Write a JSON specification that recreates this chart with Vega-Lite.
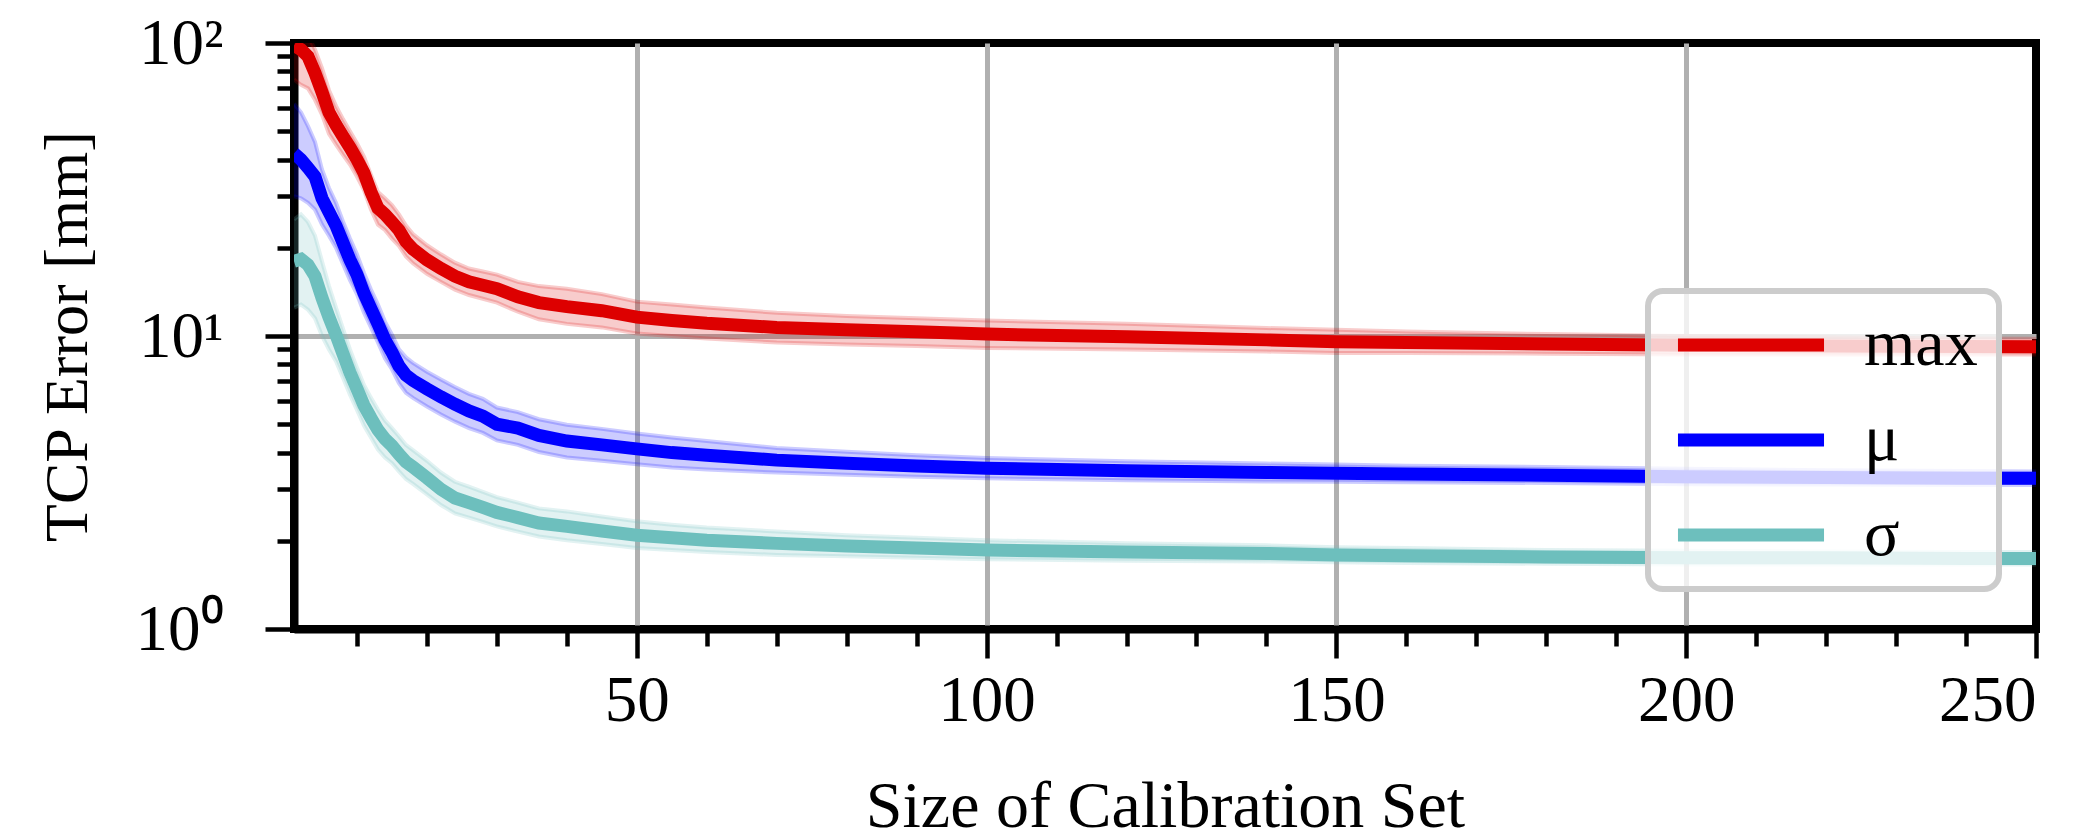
{
  "$schema": "https://vega.github.io/schema/vega-lite/v6.json",
  "width": 1742,
  "height": 586,
  "autosize": {"type": "none"},
  "padding": {"left": 294, "top": 43, "right": 64, "bottom": 211},
  "background": "white",
  "config": {
    "view": {"stroke": "black", "strokeWidth": 8},
    "font": "Liberation Serif",
    "legend": {
      "strokeColor": "#cccccc",
      "strokeWidth": 6,
      "fillColor": "rgba(255,255,255,0.8)",
      "cornerRadius": 15,
      "padding": 21
    }
  },
  "data": {
    "values": [
      {"x":1,"s":"max","v":98,"lo":75,"hi":115},
      {"x":2,"s":"max","v":95,"lo":72,"hi":112},
      {"x":3,"s":"max","v":90,"lo":70,"hi":106},
      {"x":4,"s":"max","v":79,"lo":64,"hi":95},
      {"x":5,"s":"max","v":68,"lo":57,"hi":82},
      {"x":6,"s":"max","v":58,"lo":49,"hi":69},
      {"x":7,"s":"max","v":52.5,"lo":45,"hi":61},
      {"x":8,"s":"max","v":48,"lo":41.5,"hi":55},
      {"x":9,"s":"max","v":44,"lo":38.5,"hi":50},
      {"x":10,"s":"max","v":40,"lo":35,"hi":45.5},
      {"x":11,"s":"max","v":36,"lo":31.5,"hi":41},
      {"x":12,"s":"max","v":31,"lo":27,"hi":35.5},
      {"x":13,"s":"max","v":27.3,"lo":24,"hi":31},
      {"x":14,"s":"max","v":26,"lo":23,"hi":29.5},
      {"x":15,"s":"max","v":24.5,"lo":21.5,"hi":28},
      {"x":16,"s":"max","v":23,"lo":20.3,"hi":26},
      {"x":17,"s":"max","v":21,"lo":18.7,"hi":23.8},
      {"x":18,"s":"max","v":19.8,"lo":17.7,"hi":22.3},
      {"x":20,"s":"max","v":18.2,"lo":16.3,"hi":20.4},
      {"x":22,"s":"max","v":17,"lo":15.3,"hi":19},
      {"x":24,"s":"max","v":16,"lo":14.4,"hi":17.8},
      {"x":26,"s":"max","v":15.3,"lo":13.8,"hi":17},
      {"x":28,"s":"max","v":14.9,"lo":13.4,"hi":16.6},
      {"x":30,"s":"max","v":14.5,"lo":13,"hi":16.2},
      {"x":33,"s":"max","v":13.6,"lo":12.1,"hi":15.3},
      {"x":36,"s":"max","v":13.0,"lo":11.4,"hi":14.8},
      {"x":40,"s":"max","v":12.6,"lo":11.0,"hi":14.5},
      {"x":45,"s":"max","v":12.2,"lo":10.7,"hi":13.9},
      {"x":50,"s":"max","v":11.6,"lo":10.2,"hi":13.1},
      {"x":55,"s":"max","v":11.3,"lo":10.0,"hi":12.8},
      {"x":60,"s":"max","v":11.05,"lo":9.8,"hi":12.5},
      {"x":70,"s":"max","v":10.7,"lo":9.5,"hi":12.0},
      {"x":80,"s":"max","v":10.5,"lo":9.35,"hi":11.7},
      {"x":90,"s":"max","v":10.33,"lo":9.25,"hi":11.5},
      {"x":100,"s":"max","v":10.15,"lo":9.1,"hi":11.3},
      {"x":120,"s":"max","v":9.95,"lo":9.0,"hi":11.0},
      {"x":140,"s":"max","v":9.7,"lo":8.85,"hi":10.65},
      {"x":150,"s":"max","v":9.56,"lo":8.75,"hi":10.5},
      {"x":160,"s":"max","v":9.5,"lo":8.75,"hi":10.35},
      {"x":180,"s":"max","v":9.39,"lo":8.7,"hi":10.15},
      {"x":200,"s":"max","v":9.3,"lo":8.65,"hi":10.0},
      {"x":220,"s":"max","v":9.25,"lo":8.65,"hi":9.9},
      {"x":240,"s":"max","v":9.2,"lo":8.65,"hi":9.8},
      {"x":250,"s":"max","v":9.19,"lo":8.65,"hi":9.78},
      {"x":1,"s":"μ","v":42,"lo":30,"hi":62},
      {"x":2,"s":"μ","v":40,"lo":29.5,"hi":58},
      {"x":3,"s":"μ","v":37.5,"lo":28.5,"hi":52},
      {"x":4,"s":"μ","v":35,"lo":27,"hi":46},
      {"x":5,"s":"μ","v":29.5,"lo":24,"hi":37},
      {"x":6,"s":"μ","v":26.5,"lo":22,"hi":32},
      {"x":7,"s":"μ","v":23.8,"lo":20,"hi":28.5},
      {"x":8,"s":"μ","v":20.8,"lo":17.6,"hi":24.6},
      {"x":9,"s":"μ","v":18.2,"lo":15.5,"hi":21.5},
      {"x":10,"s":"μ","v":16.2,"lo":13.9,"hi":19},
      {"x":11,"s":"μ","v":14.0,"lo":12.0,"hi":16.4},
      {"x":12,"s":"μ","v":12.4,"lo":10.7,"hi":14.4},
      {"x":13,"s":"μ","v":11.0,"lo":9.5,"hi":12.8},
      {"x":14,"s":"μ","v":9.7,"lo":8.4,"hi":11.2},
      {"x":15,"s":"μ","v":8.8,"lo":7.7,"hi":10.1},
      {"x":16,"s":"μ","v":7.9,"lo":6.9,"hi":9.0},
      {"x":17,"s":"μ","v":7.35,"lo":6.4,"hi":8.45},
      {"x":18,"s":"μ","v":7.05,"lo":6.15,"hi":8.1},
      {"x":20,"s":"μ","v":6.6,"lo":5.75,"hi":7.55},
      {"x":22,"s":"μ","v":6.2,"lo":5.4,"hi":7.1},
      {"x":24,"s":"μ","v":5.85,"lo":5.1,"hi":6.7},
      {"x":26,"s":"μ","v":5.55,"lo":4.85,"hi":6.35},
      {"x":28,"s":"μ","v":5.33,"lo":4.67,"hi":6.1},
      {"x":30,"s":"μ","v":5.0,"lo":4.4,"hi":5.7},
      {"x":33,"s":"μ","v":4.85,"lo":4.25,"hi":5.5},
      {"x":36,"s":"μ","v":4.58,"lo":4.02,"hi":5.2},
      {"x":40,"s":"μ","v":4.38,"lo":3.85,"hi":4.98},
      {"x":45,"s":"μ","v":4.25,"lo":3.75,"hi":4.82},
      {"x":50,"s":"μ","v":4.12,"lo":3.65,"hi":4.65},
      {"x":55,"s":"μ","v":4.0,"lo":3.56,"hi":4.5},
      {"x":60,"s":"μ","v":3.92,"lo":3.5,"hi":4.38},
      {"x":70,"s":"μ","v":3.77,"lo":3.42,"hi":4.15},
      {"x":80,"s":"μ","v":3.68,"lo":3.36,"hi":4.03},
      {"x":90,"s":"μ","v":3.6,"lo":3.31,"hi":3.92},
      {"x":100,"s":"μ","v":3.54,"lo":3.27,"hi":3.83},
      {"x":120,"s":"μ","v":3.47,"lo":3.22,"hi":3.74},
      {"x":140,"s":"μ","v":3.42,"lo":3.19,"hi":3.67},
      {"x":150,"s":"μ","v":3.40,"lo":3.18,"hi":3.64},
      {"x":160,"s":"μ","v":3.38,"lo":3.17,"hi":3.61},
      {"x":180,"s":"μ","v":3.35,"lo":3.15,"hi":3.57},
      {"x":200,"s":"μ","v":3.31,"lo":3.12,"hi":3.52},
      {"x":220,"s":"μ","v":3.29,"lo":3.11,"hi":3.48},
      {"x":240,"s":"μ","v":3.27,"lo":3.10,"hi":3.46},
      {"x":250,"s":"μ","v":3.27,"lo":3.10,"hi":3.45},
      {"x":1,"s":"σ","v":18,"lo":12.5,"hi":25},
      {"x":2,"s":"σ","v":18.3,"lo":12.8,"hi":26},
      {"x":3,"s":"σ","v":17.5,"lo":12.3,"hi":24.5},
      {"x":4,"s":"σ","v":16,"lo":11.5,"hi":22},
      {"x":5,"s":"σ","v":13.5,"lo":10,"hi":18},
      {"x":6,"s":"σ","v":11.6,"lo":9,"hi":14.8},
      {"x":7,"s":"σ","v":10.1,"lo":8.2,"hi":12.5},
      {"x":8,"s":"σ","v":8.7,"lo":7.2,"hi":10.6},
      {"x":9,"s":"σ","v":7.5,"lo":6.3,"hi":9.0},
      {"x":10,"s":"σ","v":6.6,"lo":5.6,"hi":7.8},
      {"x":11,"s":"σ","v":5.8,"lo":4.95,"hi":6.8},
      {"x":12,"s":"σ","v":5.25,"lo":4.5,"hi":6.15},
      {"x":13,"s":"σ","v":4.78,"lo":4.1,"hi":5.6},
      {"x":14,"s":"σ","v":4.45,"lo":3.85,"hi":5.15},
      {"x":15,"s":"σ","v":4.22,"lo":3.68,"hi":4.85},
      {"x":16,"s":"σ","v":3.95,"lo":3.45,"hi":4.55},
      {"x":17,"s":"σ","v":3.72,"lo":3.25,"hi":4.25},
      {"x":18,"s":"σ","v":3.57,"lo":3.13,"hi":4.08},
      {"x":20,"s":"σ","v":3.28,"lo":2.88,"hi":3.75},
      {"x":22,"s":"σ","v":3.0,"lo":2.65,"hi":3.42},
      {"x":24,"s":"σ","v":2.8,"lo":2.48,"hi":3.18},
      {"x":26,"s":"σ","v":2.7,"lo":2.4,"hi":3.06},
      {"x":28,"s":"σ","v":2.6,"lo":2.32,"hi":2.94},
      {"x":30,"s":"σ","v":2.5,"lo":2.24,"hi":2.82},
      {"x":33,"s":"σ","v":2.4,"lo":2.15,"hi":2.7},
      {"x":36,"s":"σ","v":2.3,"lo":2.07,"hi":2.58},
      {"x":40,"s":"σ","v":2.24,"lo":2.01,"hi":2.52},
      {"x":45,"s":"σ","v":2.16,"lo":1.95,"hi":2.42},
      {"x":50,"s":"σ","v":2.09,"lo":1.89,"hi":2.33},
      {"x":55,"s":"σ","v":2.05,"lo":1.86,"hi":2.27},
      {"x":60,"s":"σ","v":2.01,"lo":1.83,"hi":2.22},
      {"x":70,"s":"σ","v":1.96,"lo":1.79,"hi":2.15},
      {"x":80,"s":"σ","v":1.92,"lo":1.77,"hi":2.09},
      {"x":90,"s":"σ","v":1.89,"lo":1.75,"hi":2.05},
      {"x":100,"s":"σ","v":1.86,"lo":1.73,"hi":2.01},
      {"x":120,"s":"σ","v":1.83,"lo":1.71,"hi":1.96},
      {"x":140,"s":"σ","v":1.81,"lo":1.70,"hi":1.93},
      {"x":150,"s":"σ","v":1.79,"lo":1.69,"hi":1.9},
      {"x":160,"s":"σ","v":1.78,"lo":1.68,"hi":1.89},
      {"x":180,"s":"σ","v":1.76,"lo":1.67,"hi":1.86},
      {"x":200,"s":"σ","v":1.75,"lo":1.66,"hi":1.85},
      {"x":220,"s":"σ","v":1.75,"lo":1.66,"hi":1.84},
      {"x":240,"s":"σ","v":1.74,"lo":1.66,"hi":1.83},
      {"x":250,"s":"σ","v":1.74,"lo":1.66,"hi":1.83}
    ]
  },
  "encoding": {
    "x": {
      "field": "x", "type": "quantitative",
      "scale": {"domain": [1, 250], "nice": false, "zero": false},
      "axis": {
        "title": "Size of Calibration Set",
        "values": [10,20,30,40,50,60,70,80,90,100,110,120,130,140,150,160,170,180,190,200,210,220,230,240,250],
        "labelExpr": "datum.value % 50 === 0 ? datum.label : ''",
        "labelOverlap": false,
        "labelFont": "Liberation Serif",
        "labelFontSize": 65,
        "labelColor": "black",
        "labelPadding": 11,
        "tickSize": {"condition": {"test": "datum.value % 50 === 0", "value": 29}, "value": 17},
        "tickWidth": 4.5,
        "tickColor": "black",
        "domainColor": "black",
        "domainWidth": 8,
        "grid": true,
        "gridColor": "#b0b0b0",
        "gridWidth": 5,
        "gridOpacity": {"condition": {"test": "datum.value % 50 === 0 && datum.value < 250", "value": 1}, "value": 0},
        "titleFont": "Liberation Serif",
        "titleFontSize": 66,
        "titleFontWeight": "normal",
        "titleColor": "black",
        "titleBaseline": "alphabetic",
        "titleY": 197
      }
    }
  },
  "layer": [
    {
      "mark": {"type": "area", "fillOpacity": 0.2, "clip": true},
      "encoding": {
        "y": {"field": "lo", "type": "quantitative", "scale": {"type": "log", "domain": [1, 100], "nice": false}},
        "y2": {"field": "hi"},
        "color": {"field": "s", "type": "nominal",
          "scale": {"domain": ["max", "μ", "σ"], "range": ["#dd0000", "#0000ff", "#6dbfbd"]}}
      }
    },
    {
      "mark": {"type": "line", "strokeOpacity": 0.2, "strokeWidth": 4, "clip": true},
      "encoding": {
        "y": {"field": "lo", "type": "quantitative"},
        "color": {"field": "s", "type": "nominal"}
      }
    },
    {
      "mark": {"type": "line", "strokeOpacity": 0.2, "strokeWidth": 4, "clip": true},
      "encoding": {
        "y": {"field": "hi", "type": "quantitative"},
        "color": {"field": "s", "type": "nominal"}
      }
    },
    {
      "mark": {"type": "line", "strokeWidth": 13, "clip": true},
      "encoding": {
        "y": {
          "field": "v", "type": "quantitative",
          "axis": {
            "title": "TCP Error [mm]",
            "values": [1,2,3,4,5,6,7,8,9,10,20,30,40,50,60,70,80,90,100],
            "labelExpr": "datum.value === 1 ? '10⁰' : datum.value === 10 ? '10¹' : datum.value === 100 ? '10²' : ''",
            "labelOverlap": false,
            "labelFont": "Liberation Serif",
            "labelFontSize": 65,
            "labelColor": "black",
            "labelPadding": 42,
            "tickSize": {"condition": {"test": "datum.value === 1 || datum.value === 10 || datum.value === 100", "value": 29}, "value": 17},
            "tickWidth": 4.5,
            "tickColor": "black",
            "domainColor": "black",
            "domainWidth": 8,
            "grid": true,
            "gridColor": "#b0b0b0",
            "gridWidth": 5,
            "gridOpacity": {"condition": {"test": "datum.value === 10", "value": 1}, "value": 0},
            "titleFont": "Liberation Serif",
            "titleFontSize": 62,
            "titleFontWeight": "normal",
            "titleColor": "black",
            "titleAngle": -90,
            "titleAlign": "center",
            "titleBaseline": "middle",
            "titleX": -227,
            "titleY": 293
          }
        },
        "color": {
          "field": "s", "type": "nominal",
          "legend": {
            "orient": "none",
            "legendX": 1354,
            "legendY": 248,
            "title": null,
            "symbolType": "M-3,0H3",
            "symbolSize": 2370,
            "symbolStrokeWidth": 13,
            "symbolOpacity": 1,
            "symbolOffset": 49,
            "labelFont": "Liberation Serif",
            "labelFontSize": 66,
            "labelColor": "black",
            "labelOffset": 80,
            "labelLimit": 0,
            "rowPadding": 29
          }
        }
      }
    }
  ]
}
